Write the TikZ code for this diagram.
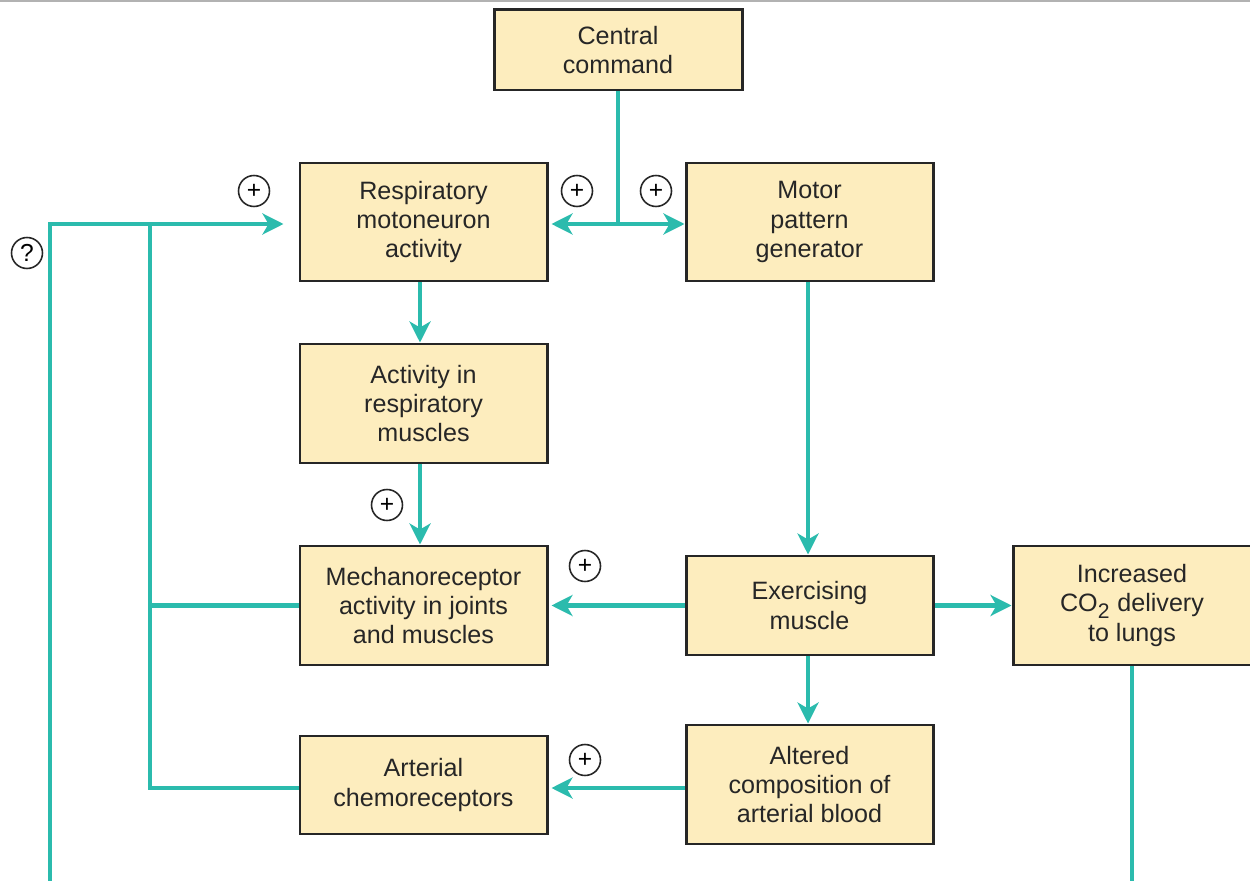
\documentclass[tikz,border=0pt]{standalone}
\usepackage{fontspec}
\setmainfont{Liberation Sans}
\usetikzlibrary{arrows.meta}
\definecolor{teal1}{HTML}{2BBBAD}
\definecolor{boxfill}{HTML}{FDEDBE}
\definecolor{boxline}{HTML}{262626}
\begin{document}
\begin{tikzpicture}[x=0.02cm,y=-0.02cm,
  box/.style={draw=boxline,line width=1.7pt,fill=boxfill,align=center,
    font=\fontsize{14.3pt}{16.6pt}\selectfont,text=black!85,inner sep=0pt},
  conn/.style={draw=teal1,line width=2.3pt},
  arr/.style={conn,-{Stealth[length=0.42cm,width=0.42cm,inset=0.12cm]}},
  sign/.style={circle,draw=black!85,line width=0.9pt,minimum size=0.62cm,inner sep=0pt,
    font=\fontsize{14pt}{14pt}\selectfont}]
\useasboundingbox (0,0) rectangle (1250,881);
\draw[black!30,line width=0.8pt] (0,1) -- (1250,1);
% boxes
\node[box,minimum width=248*0.02cm,minimum height=80*0.02cm] (cc) at (618,50) {Central\\command};
\node[box,minimum width=247*0.02cm,minimum height=118*0.02cm] (resp) at (423.5,222) {Respiratory\\motoneuron\\activity};
\node[box,minimum width=247*0.02cm,minimum height=118*0.02cm] (mpg) at (809.5,222) {Motor\\pattern\\generator};
\node[box,minimum width=247*0.02cm,minimum height=119*0.02cm] (act) at (423.5,403.5) {Activity in\\respiratory\\muscles};
\node[box,minimum width=247*0.02cm,minimum height=119*0.02cm] (mech) at (423.5,605.5) {Mechanoreceptor\\activity in joints\\and muscles};
\node[box,minimum width=247*0.02cm,minimum height=99*0.02cm] (ex) at (809.5,605.5) {Exercising\\muscle};
\node[box,minimum width=238*0.02cm,minimum height=119*0.02cm] (co2) at (1132,605.5) {Increased\\CO$_{\mbox{\fontsize{12pt}{12pt}\selectfont 2}}$ delivery\\to lungs};
\node[box,minimum width=247*0.02cm,minimum height=119*0.02cm] (alt) at (809.5,784.5) {Altered\\composition of\\arterial blood};
\node[box,minimum width=247*0.02cm,minimum height=98*0.02cm] (art) at (423.5,785) {Arterial\\chemoreceptors};
% coordinates
\coordinate (j1) at (618,224);
\coordinate (j2) at (150,224);
\coordinate (bl) at (50,881);
\coordinate (ya) at (0,788);
% connectors
\draw[conn] (cc.south) -- (j1);
\draw[arr,shorten >=3*0.02cm] (j1) -- (resp.east |- j1);
\draw[arr] (j1) -- (mpg.west |- j1);
\draw[arr,shorten >=15*0.02cm] (bl) |- (resp.west |- j1);
\draw[conn] (j2) |- (art.west |- ya);
\draw[conn] (mech.west) -- (mech.west -| j2);
\draw[arr] (resp.south -| 420,0) -- (act.north -| 420,0);
\draw[arr] (act.south -| 420,0) -- (mech.north -| 420,0);
\draw[arr] (mpg.south -| 808,0) -- (ex.north -| 808,0);
\draw[arr,shorten >=3*0.02cm] (ex.west) -- (mech.east);
\draw[arr] (ex.east) -- (co2.west);
\draw[arr] (ex.south -| 808,0) -- (alt.north -| 808,0);
\draw[arr,shorten >=3*0.02cm] (alt.west |- ya) -- (art.east |- ya);
\draw[conn] (co2.south) -- (co2.south |- bl);
% signs
\node[sign] (s1) at (254,191) {+};
\node[sign] (s2) at (577,191) {+};
\node[sign] (s3) at (656,191) {+};
\node[sign] (s4) at (387,505) {+};
\node[sign] (s5) at (585,566) {+};
\node[sign] (s6) at (585,760) {+};
\node[sign] (q) at (27,253) {?};
\end{tikzpicture}
\end{document}
